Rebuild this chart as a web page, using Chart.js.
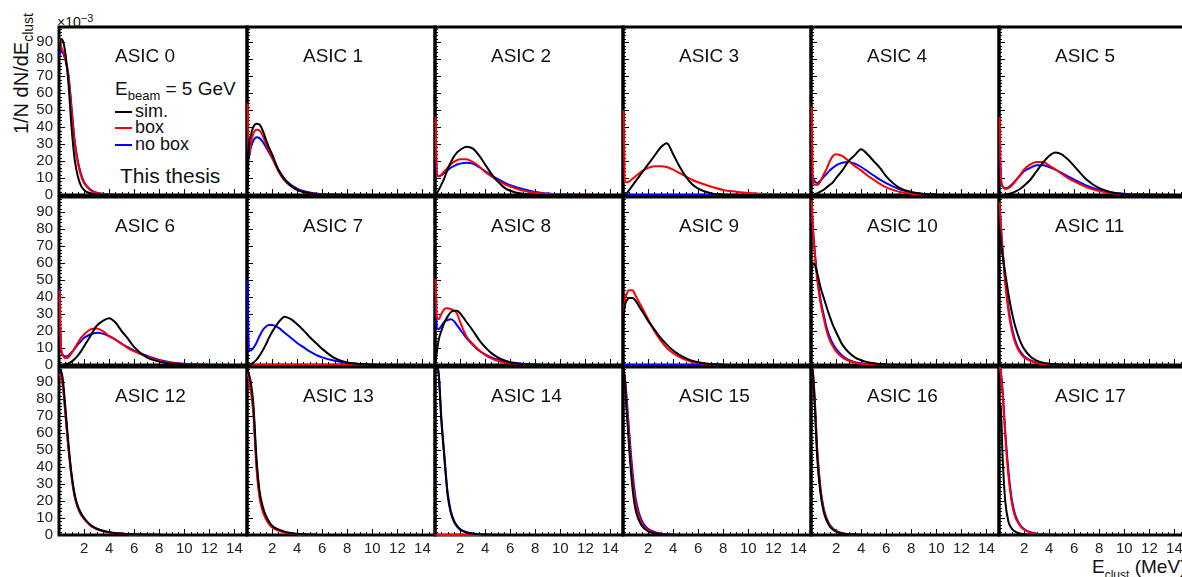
<!DOCTYPE html>
<html>
<head>
<meta charset="utf-8">
<title>Cluster energy per ASIC</title>
<script src="https://cdn.jsdelivr.net/npm/chart.js@4.4.1/dist/chart.umd.min.js"></script>
<style>
    body { margin: 0; background: #fff; }
    #page {
        position: relative; width: 1182px; height: 577px; overflow: hidden; background: #fff;
        font-family: "Liberation Sans", Arial, Helvetica, sans-serif; color: #111;
    }
    .panel { position: absolute; }
    .txt { position: absolute; white-space: nowrap; line-height: 1; }
    .key { position: absolute; width: 17px; height: 2px; }
</style>
</head>
<body>
<div id="page">
    <div class="txt" style="left:11px; top:13px; font-size:20px; transform-origin:0 0; transform:rotate(-90deg) translateX(-100%);">1/N dN/dE<span style="font-size:14px; vertical-align:-5px;">clust</span></div>
    <div class="txt" style="left:57px; top:13px; font-size:14px;">&times;10<span style="font-size:11px; vertical-align:5px;">&minus;3</span></div>
    <div class="txt" style="left:1092px; top:557px; font-size:19px;">E<span style="font-size:12px; vertical-align:-6px;">clust</span> (MeV)</div>

    <div class="txt" style="left:115px; top:79px; font-size:19px;">E<span style="font-size:13px; vertical-align:-5px;">beam</span> = 5 GeV</div>
    <div class="key" style="left:115px; top:111px; background:#000;"></div>
    <div class="txt" style="left:135px; top:102px; font-size:18px;">sim.</div>
    <div class="key" style="left:115px; top:127px; background:#ff0000;"></div>
    <div class="txt" style="left:135px; top:118px; font-size:18px;">box</div>
    <div class="key" style="left:115px; top:144px; background:#0000ff;"></div>
    <div class="txt" style="left:135px; top:135px; font-size:18px;">no box</div>
    <div class="txt" style="left:120px; top:165px; font-size:21px;">This thesis</div>
</div>
<script>
// bin centres (MeV) shared by every curve
const energy = [0.05, 0.15, 0.3, 0.5, 0.75, 1, 1.25, 1.5, 1.75, 2, 2.5, 3, 3.5, 4, 4.5, 5, 5.5, 6, 7, 8, 9, 10, 12, 14.95];

const asicLabels = ['ASIC 0', 'ASIC 1', 'ASIC 2', 'ASIC 3', 'ASIC 4', 'ASIC 5',
                    'ASIC 6', 'ASIC 7', 'ASIC 8', 'ASIC 9', 'ASIC 10', 'ASIC 11',
                    'ASIC 12', 'ASIC 13', 'ASIC 14', 'ASIC 15', 'ASIC 16', 'ASIC 17'];

const yTickValues = [0, 10, 20, 30, 40, 50, 60, 70, 80, 90];
const xTickValues = [2, 4, 6, 8, 10, 12, 14];

const seriesNames = ['sim.', 'box', 'no box'];
const seriesColors = ['#000000', '#ff0000', '#0000ff'];

// 1/N dN/dE in units of 1e-3, one row per ASIC
const simCurves = [
    [85, 92, 91, 84, 66, 40, 21, 11, 5.5, 3, 1, 0.4, 0.2, 0.1, 0, 0, 0, 0, 0, 0, 0, 0, 0, 0],
    [5, 28, 35, 40, 42, 41.5, 38, 33, 28, 24, 15, 9, 5.5, 3, 1.8, 1, 0.5, 0.3, 0.1, 0, 0, 0, 0, 0],
    [0, 1, 3, 6, 10, 15, 19, 22.5, 25, 26.5, 28.5, 27.5, 23.5, 18, 12.5, 8, 4.5, 2.5, 0.7, 0.2, 0, 0, 0, 0],
    [0, 0, 1, 3, 5.5, 8, 10.5, 13, 15.5, 18, 23, 28, 30.5, 24, 17, 11, 6.5, 3.8, 1, 0.3, 0.1, 0, 0, 0],
    [0, 0, 0.5, 1, 2, 3, 4.5, 6, 7.5, 10, 14.5, 20, 23.5, 27, 24, 20, 16, 11, 4.5, 1.8, 0.6, 0.2, 0, 0],
    [0, 0, 0, 0.3, 0.6, 1, 1.8, 2.8, 4, 5.5, 9, 14, 19, 23, 25, 24, 21, 17, 9, 4, 1.5, 0.5, 0.1, 0],
    [0, 0, 0, 0.5, 1, 2, 3.5, 5.5, 8, 11, 17, 23, 26, 27.5, 25, 20, 15.5, 10.5, 4.5, 2, 0.7, 0.3, 0, 0],
    [0, 0, 0.5, 1.5, 3, 5.5, 8.5, 12, 16, 19.5, 25, 28.5, 27, 24, 20.5, 16.5, 13, 9.5, 4, 1.5, 0.6, 0.2, 0, 0],
    [0, 8, 15, 20, 25, 28.5, 31, 32, 32, 30.5, 25.5, 20.5, 15, 10.5, 7, 4.5, 2.8, 1.5, 0.5, 0.2, 0, 0, 0, 0],
    [28, 35, 38, 39.5, 39.5, 38, 35, 32, 29, 26, 21, 16, 12, 8.5, 6, 4, 2.5, 1.6, 0.6, 0.2, 0, 0, 0, 0],
    [55, 60, 59, 54, 46, 40, 34, 28.5, 23.5, 19.5, 12, 7.5, 4.5, 2.8, 1.7, 1, 0.6, 0.3, 0.1, 0, 0, 0, 0, 0],
    [80, 72, 64, 54, 42, 32, 24, 18, 13, 9.5, 5, 2.6, 1.4, 0.8, 0.4, 0.2, 0.1, 0, 0, 0, 0, 0, 0, 0],
    [97, 97, 92, 76, 54, 36, 24, 17, 13, 10, 6, 3.8, 2.5, 1.7, 1.1, 0.8, 0.6, 0.4, 0.2, 0.1, 0, 0, 0, 0],
    [97, 95, 90, 78, 46, 26, 17, 11.5, 8, 5.5, 3.3, 2, 1.2, 0.7, 0.4, 0.2, 0.1, 0, 0, 0, 0, 0, 0, 0],
    [99, 99, 94, 68, 45, 24, 13.5, 8, 5, 3.2, 1.5, 0.8, 0.4, 0.2, 0.1, 0, 0, 0, 0, 0, 0, 0, 0, 0],
    [97, 90, 72, 50, 28, 15, 9, 5.5, 3.5, 2.2, 1, 0.5, 0.2, 0.1, 0, 0, 0, 0, 0, 0, 0, 0, 0, 0],
    [99, 95, 76, 45, 25, 14, 8.5, 5, 3.2, 2, 0.9, 0.4, 0.2, 0.1, 0, 0, 0, 0, 0, 0, 0, 0, 0, 0],
    [78, 74, 44, 20, 8, 4, 2.2, 1.2, 0.7, 0.4, 0.2, 0.1, 0, 0, 0, 0, 0, 0, 0, 0, 0, 0, 0, 0]
];

const boxCurves = [
    [92, 88, 85, 80, 70, 50, 31, 19, 11.5, 7, 2.8, 1.2, 0.6, 0.3, 0.2, 0.1, 0.1, 0, 0, 0, 0, 0, 0, 0],
    [54, 22, 30, 36, 38.5, 38, 35, 30.5, 26, 22, 14, 8.5, 5.2, 3, 1.8, 1, 0.6, 0.3, 0.1, 0, 0, 0, 0, 0],
    [46, 11, 11, 12, 14, 16, 18, 19.5, 20.5, 21, 21, 19.5, 17, 13.5, 11, 8.5, 6.5, 5, 2.6, 1.3, 0.7, 0.3, 0.1, 0],
    [50, 8, 7.5, 8, 9.5, 11, 12.5, 14, 15, 16, 17, 17, 16.5, 15, 13, 11, 9, 7.5, 5, 3, 2, 1.2, 0.5, 0.2],
    [52, 9, 6, 6, 8, 12, 15.5, 20, 23, 24, 23, 20, 17, 14.5, 11.5, 9, 6.5, 4.5, 2, 0.8, 0.3, 0.1, 0, 0],
    [46, 12, 5, 3.5, 4, 5.5, 7.5, 10, 12.5, 15, 18, 19.5, 19.5, 17.5, 15, 12.5, 10, 8, 4.5, 2.3, 1, 0.5, 0.1, 0],
    [44, 12, 6, 4, 4.5, 7, 10, 13, 16, 18, 21, 21.5, 20, 17, 15, 12.5, 10, 8, 5, 2.5, 1.2, 0.6, 0.2, 0],
    [0, 0, 0, 0, 0, 0, 0, 0, 0, 0, 0, 0, 0, 0, 0, 0, 0, 0, 0, 0, 0, 0, 0, 0],
    [51, 28, 27, 30, 33, 33.5, 33, 32, 30.5, 25.5, 17, 12.5, 8.8, 6, 3.9, 2.5, 1.5, 0.9, 0.3, 0.1, 0, 0, 0, 0],
    [30, 38, 42, 44, 44, 41, 37.5, 34, 30.5, 27, 20, 14.5, 10, 7, 4.8, 3, 1.8, 1.1, 0.3, 0.1, 0, 0, 0, 0],
    [97, 82, 66, 50, 37, 28, 20, 14.5, 11, 8, 4.5, 2.5, 1.3, 0.7, 0.4, 0.2, 0.1, 0, 0, 0, 0, 0, 0, 0],
    [96, 82, 66, 48, 32, 21, 14, 9.5, 6.5, 4.5, 2.5, 1.2, 0.6, 0.3, 0.2, 0.1, 0, 0, 0, 0, 0, 0, 0, 0],
    [95, 93, 88, 72, 51, 34, 22.5, 16, 12, 9.5, 5.5, 3.5, 2.3, 1.5, 1, 0.7, 0.5, 0.3, 0.15, 0.1, 0, 0, 0, 0],
    [95, 92, 85, 72, 40, 22, 14, 9.5, 6.5, 4.5, 2.6, 1.5, 0.9, 0.5, 0.3, 0.2, 0.1, 0, 0, 0, 0, 0, 0, 0],
    [0, 0, 0, 0, 0, 0, 0, 0, 0, 0, 0, 0, 0, 0, 0, 0, 0, 0, 0, 0, 0, 0, 0, 0],
    [97, 92, 76, 56, 34, 19, 11.5, 7, 4.5, 3, 1.4, 0.7, 0.3, 0.15, 0.1, 0, 0, 0, 0, 0, 0, 0, 0, 0],
    [99, 96, 79, 49, 27, 15.5, 9.3, 5.6, 3.6, 2.3, 1, 0.5, 0.25, 0.1, 0, 0, 0, 0, 0, 0, 0, 0, 0, 0],
    [99, 95, 82, 58, 35, 20, 11.5, 7.5, 4.8, 3.2, 1.4, 0.7, 0.3, 0.15, 0.1, 0, 0, 0, 0, 0, 0, 0, 0, 0]
];

const noBoxCurves = [
    [82, 86, 84, 80, 71, 52, 32, 20, 12.5, 7.5, 3.2, 1.4, 0.7, 0.4, 0.2, 0.1, 0.1, 0, 0, 0, 0, 0, 0, 0],
    [35, 22, 28, 32, 34, 33.5, 31.5, 28.5, 25, 22, 15, 9.5, 6, 3.8, 2.4, 1.5, 0.9, 0.5, 0.2, 0.1, 0, 0, 0, 0],
    [35, 12, 11, 11.5, 13, 14.5, 16, 17, 18, 18.5, 19, 18.5, 16.5, 14, 11.5, 9.5, 7.5, 5.8, 3.5, 1.8, 0.9, 0.4, 0.1, 0],
    [0, 0, 0, 0, 0, 0, 0, 0, 0, 0, 0, 0, 0, 0, 0, 0, 0, 0, 0, 0, 0, 0, 0, 0],
    [14, 10, 8, 7, 8.5, 10.5, 12.5, 14.5, 16, 17.5, 19, 19.5, 18.5, 16.5, 14, 11.5, 9, 7, 3.5, 1.5, 0.6, 0.2, 0, 0],
    [30, 9, 5, 4, 4.5, 6, 8, 10, 12, 14, 16, 17.5, 17.5, 16.5, 15, 13, 11, 9, 5.5, 3, 1.5, 0.7, 0.2, 0],
    [45, 10, 6, 5, 5.5, 7.5, 9.5, 12, 14, 16, 18, 19, 18.5, 17, 15, 12.5, 10.5, 8.5, 5.5, 3, 1.5, 0.7, 0.2, 0],
    [50, 9, 8.5, 10, 13, 17, 20.5, 22.5, 23.5, 23.5, 22, 19, 16, 13, 10.5, 8, 6, 4.5, 2.5, 1.2, 0.6, 0.3, 0.1, 0],
    [38, 22, 21, 23, 25.5, 26.5, 27, 26, 23.5, 21, 16, 12, 8.5, 6.2, 4.5, 3.2, 2.3, 1.6, 0.8, 0.3, 0.1, 0, 0, 0],
    [0, 0, 0, 0, 0, 0, 0, 0, 0, 0, 0, 0, 0, 0, 0, 0, 0, 0, 0, 0, 0, 0, 0, 0],
    [92, 80, 67, 52, 39, 30, 22, 16.5, 12.5, 9.5, 5.5, 3, 1.7, 1, 0.6, 0.3, 0.2, 0.1, 0, 0, 0, 0, 0, 0],
    [93, 82, 67, 50, 34, 23, 15.5, 10.5, 7.5, 5.2, 2.8, 1.4, 0.7, 0.4, 0.2, 0.1, 0, 0, 0, 0, 0, 0, 0, 0],
    [96, 94, 89, 73, 52, 35, 23, 16.5, 12.5, 9.8, 5.8, 3.7, 2.4, 1.6, 1.1, 0.8, 0.5, 0.35, 0.2, 0.1, 0, 0, 0, 0],
    [96, 93, 87, 75, 43, 24, 15.5, 10.5, 7.2, 5, 2.9, 1.7, 1, 0.6, 0.3, 0.2, 0.1, 0, 0, 0, 0, 0, 0, 0],
    [99, 99, 95, 70, 47, 25.5, 14.5, 8.8, 5.5, 3.5, 1.7, 0.9, 0.5, 0.3, 0.2, 0.1, 0.1, 0, 0, 0, 0, 0, 0, 0],
    [96, 93, 80, 60, 38, 22, 13.5, 8.5, 5.5, 3.6, 1.8, 0.9, 0.4, 0.2, 0.1, 0, 0, 0, 0, 0, 0, 0, 0, 0],
    [98, 96, 80, 50, 28, 16, 9.8, 6, 3.9, 2.5, 1.1, 0.55, 0.3, 0.15, 0.1, 0, 0, 0, 0, 0, 0, 0, 0, 0],
    [99, 96, 84, 61, 38, 22, 13, 8.3, 5.3, 3.5, 1.6, 0.8, 0.4, 0.2, 0.1, 0, 0, 0, 0, 0, 0, 0, 0, 0]
];

const FONT = '"Liberation Sans", Arial, Helvetica, sans-serif';

// grid geometry of the 6x3 pad layout
const X0 = 59, PW = 188, Y0 = 27, PH = 168, RG = 170;
const Y_MAX = 99, X_MAX = 15;

// thick frame plus inward ticks, drawn under the curves
const frameTicks = {
    id: 'frameTicks',
    beforeDatasetsDraw(chart) {
        const { ctx, chartArea: a, scales: { x, y } } = chart;
        ctx.save();
        ctx.strokeStyle = '#000';
        ctx.lineWidth = 1;
        ctx.beginPath();
        for (let v = 0; v < Y_MAX; v += 2) {
            const py = Math.round(y.getPixelForValue(v)) + 0.5;
            ctx.moveTo(a.left, py);
            ctx.lineTo(a.left + (v % 10 === 0 ? 6 : 3), py);
        }
        for (let e = 0; e <= X_MAX; e += 0.5) {
            const px = Math.round(x.getPixelForValue(e)) + 0.5;
            ctx.moveTo(px, a.bottom);
            ctx.lineTo(px, a.bottom - (e % 2 === 0 ? 6 : 3));
        }
        ctx.stroke();
        ctx.lineWidth = 3;
        ctx.strokeRect(a.left, a.top, a.right - a.left, a.bottom - a.top);
        ctx.restore();
    }
};

const page = document.getElementById('page');

asicLabels.forEach((name, i) => {
    const r = Math.floor(i / 6), c = i % 6;
    const padL = c === 0 ? X0 : 4;
    const padB = r === 2 ? 40 : 10;

    const wrap = document.createElement('div');
    wrap.className = 'panel';
    wrap.style.left = (X0 + c * PW - padL) + 'px';
    wrap.style.top = (Y0 + r * RG - 4) + 'px';
    wrap.style.width = (padL + PW + 4) + 'px';
    wrap.style.height = (4 + PH + padB) + 'px';
    const canvas = document.createElement('canvas');
    wrap.appendChild(canvas);
    page.appendChild(wrap);

    const curves = [simCurves[i], boxCurves[i], noBoxCurves[i]];

    new Chart(canvas, {
        type: 'line',
        data: {
            datasets: curves.map((vals, k) => ({
                label: seriesNames[k],
                data: energy.map((e, j) => ({ x: e, y: vals[j] })),
                borderColor: seriesColors[k],
                borderWidth: 2,
                pointRadius: 0,
                fill: false,
                cubicInterpolationMode: 'monotone',
                clip: { left: 2, top: 0, right: 0, bottom: 2 }
            }))
        },
        options: {
            responsive: true,
            maintainAspectRatio: false,
            animation: false,
            events: [],
            layout: { padding: { left: c === 0 ? 0 : 4, top: 4, right: 4, bottom: r === 2 ? 0 : 10 } },
            plugins: { legend: { display: false }, tooltip: { enabled: false } },
            scales: {
                x: {
                    type: 'linear', min: 0, max: X_MAX,
                    grid: { display: false, drawTicks: false },
                    border: { display: false },
                    ticks: {
                        display: r === 2, padding: 5, color: '#222', autoSkip: false, maxRotation: 0,
                        font: { family: FONT, size: 15 }
                    },
                    afterBuildTicks: s => { s.ticks = xTickValues.map(v => ({ value: v })); },
                    afterFit: s => { s.height = r === 2 ? 40 : 0; s.paddingLeft = 0; s.paddingRight = 0; }
                },
                y: {
                    type: 'linear', min: 0, max: Y_MAX,
                    grid: { display: false, drawTicks: false },
                    border: { display: false },
                    ticks: {
                        display: c === 0, padding: 6, color: '#222', autoSkip: false,
                        font: { family: FONT, size: 15 }
                    },
                    afterBuildTicks: s => { s.ticks = yTickValues.map(v => ({ value: v })); },
                    afterFit: s => { s.width = c === 0 ? X0 : 0; s.paddingTop = 0; s.paddingBottom = 0; }
                }
            }
        },
        plugins: [frameTicks]
    });

    const lbl = document.createElement('div');
    lbl.className = 'txt';
    lbl.style.fontSize = '19px';
    lbl.style.left = (X0 + c * PW + 56) + 'px';
    lbl.style.top = (46 + r * RG) + 'px';
    lbl.textContent = name;
    page.appendChild(lbl);
});
</script>
</body>
</html>
